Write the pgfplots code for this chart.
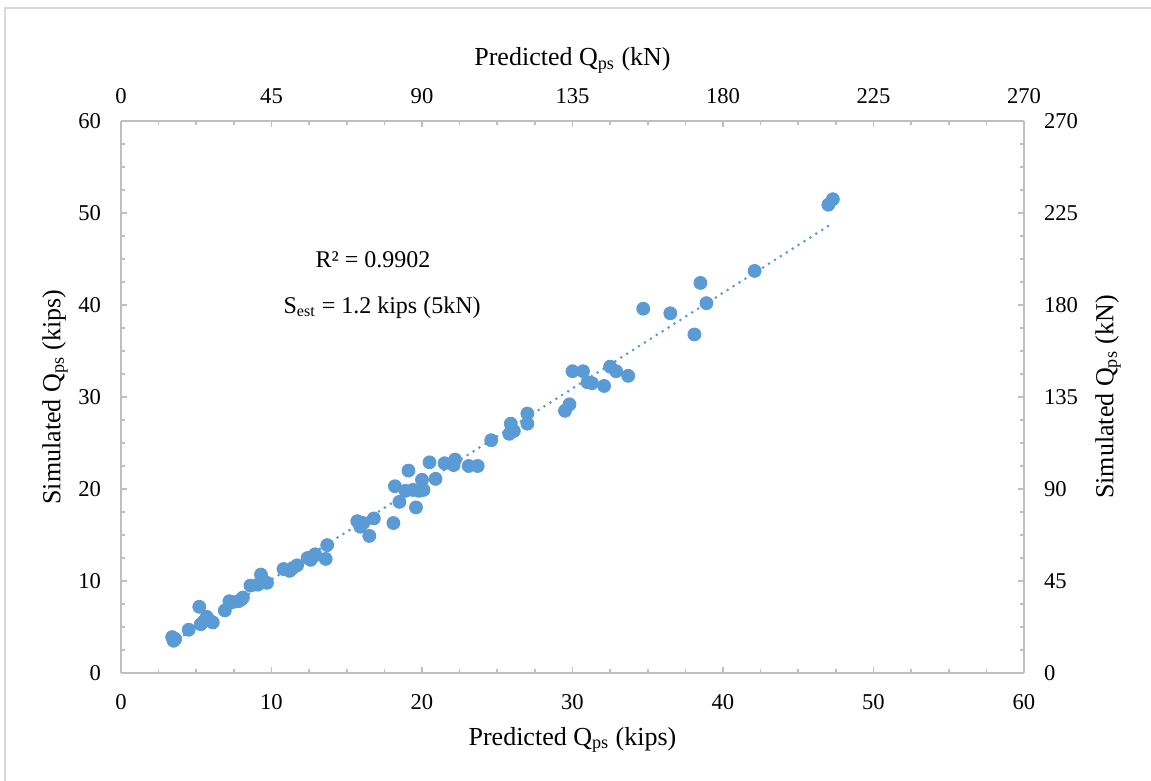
\documentclass[border=0pt]{standalone}
\usepackage{fontspec}
\setmainfont{Liberation Serif}
\usepackage{pgfplots}
\pgfplotsset{compat=1.18}
\definecolor{ptblue}{HTML}{5B9BD5}
\definecolor{axgrey}{HTML}{BFBFBF}
\definecolor{brd}{HTML}{D9D9D9}
\begin{document}
\begin{tikzpicture}
\useasboundingbox (-60.5pt,-54pt) rectangle (515pt,336.5pt);
\draw[brd, line width=0.6pt] (-58pt,-54pt) -- (-58pt,332.5pt) -- (515pt,332.5pt);
\pgfplotsset{
 common/.style={
  width=451.5pt, height=276pt, scale only axis,
  at={(0,0)}, anchor=south west,
  axis line style={axgrey, line width=1pt, -},
  tick style={axgrey, line width=0.8pt},
  tick align=inside,
  major tick length=3pt, minor tick length=2pt,
  minor tick num=3,
  ticklabel style={font=\fontsize{11.3}{13}\selectfont, text=black},
  /pgf/number format/assume math mode=true,
  label style={font=\fontsize{13}{15}\selectfont, text=black},
 }
}
\begin{axis}[common,
  xmin=0, xmax=270, ymin=0, ymax=270,
  xtick={0,45,...,270}, ytick={0,45,...,270},
  axis x line*=top, axis y line*=right,
  xticklabel style={yshift=5pt},
  yticklabel style={xshift=6.5pt},
  xlabel={Predicted Q\textsubscript{ps} (kN)},
  ylabel={Simulated Q\textsubscript{ps} (kN)},
  x label style={at={(axis description cs:0.5,1.110)}, anchor=center},
  y label style={at={(axis description cs:1.093,0.5)}, anchor=center},
]
\end{axis}
\begin{axis}[common,
  xmin=0, xmax=60, ymin=0, ymax=60,
  xtick={0,10,...,60}, ytick={0,10,...,60},
  axis x line*=bottom, axis y line*=left,
  xticklabel style={yshift=-7pt},
  yticklabel style={xshift=-6.5pt},
  xlabel={Predicted Q\textsubscript{ps} (kips)},
  ylabel={Simulated Q\textsubscript{ps} (kips)},
  x label style={at={(axis description cs:0.5,-0.121)}, anchor=center},
  y label style={at={(axis description cs:-0.073,0.5)}, anchor=center},
]
\addplot[ptblue, line width=1.5pt, dash pattern=on 0pt off 3.5pt, line cap=round] coordinates {(3.4,3.3) (47.3,48.9)};
\addplot[only marks, mark=*, mark size=3.25pt, mark options={fill=ptblue, draw=ptblue}] table {
x y
3.4 3.9
3.5 3.5
3.6 3.7
4.5 4.7
5.2 7.2
5.3 5.3
5.7 6.1
5.5 5.6
6.1 5.5
6.9 6.8
7.2 7.8
7.4 7.7
7.8 7.8
8.0 8.0
8.1 8.2
8.6 9.5
9.3 10.7
9.1 9.6
9.4 10.1
9.7 9.8
10.8 11.3
11.2 11.1
11.4 11.4
11.7 11.7
12.4 12.5
12.8 12.7
12.9 12.9
12.6 12.3
13.6 12.4
13.7 13.9
15.7 16.5
15.9 15.9
16.1 16.3
16.5 14.9
16.8 16.8
18.1 16.3
18.2 20.3
18.5 18.6
18.9 19.8
19.1 22.0
19.4 19.9
19.6 18.0
19.8 19.8
20.0 21.0
20.1 19.9
20.5 22.9
20.9 21.1
21.5 22.8
22.1 22.6
22.2 23.2
23.1 22.5
23.7 22.5
24.6 25.3
25.8 26.0
25.9 27.1
26.1 26.3
27.0 27.1
27.0 28.2
29.5 28.5
29.8 29.2
30.0 32.8
30.7 32.8
31.0 31.6
31.3 31.5
32.1 31.2
32.5 33.3
32.9 32.8
33.7 32.3
34.7 39.6
36.5 39.1
38.1 36.8
38.5 42.4
38.9 40.2
42.1 43.7
47.0 50.9
47.3 51.5
};
\node[anchor=base west, inner sep=0pt, font=\fontsize{12}{14}\selectfont] at (axis cs:12.9,44.1) {R² = 0.9902};
\node[anchor=base west, inner sep=0pt, font=\fontsize{12}{14}\selectfont] at (axis cs:10.78,39.1) {S\textsubscript{est} = 1.2 kips (5kN)};
\end{axis}
\end{tikzpicture}
\end{document}
